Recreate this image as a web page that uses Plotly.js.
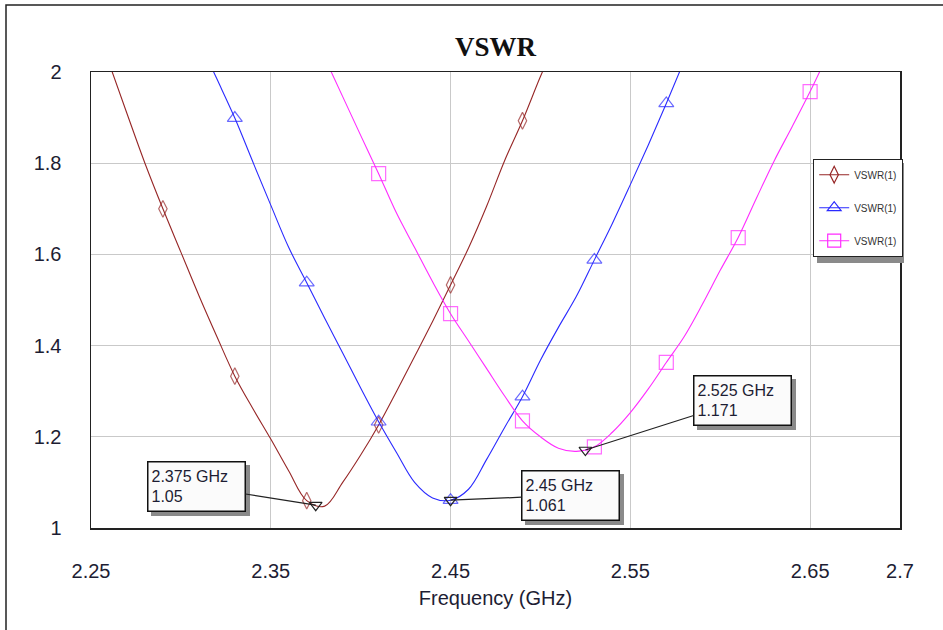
<!DOCTYPE html>
<html>
<head>
<meta charset="utf-8">
<script src="https://cdn.plot.ly/plotly-3.0.1.min.js"></script>
<style>html,body{margin:0;padding:0;background:#fff;}#chart{width:943px;height:630px;}</style>
</head>
<body>
<div id="chart"></div>
<script>
// ---- data ----
const redFreq = [2.26,2.27,2.28,2.29,2.30,2.31,2.32,2.33,2.34,2.35,2.36,2.37,2.38,2.39,2.40,2.41,2.42,2.43,2.44,2.45,2.46,2.47,2.48,2.49,2.50,2.51];
const redVswr = [2.02,1.909,1.80,1.70,1.605,1.51,1.42,1.333,1.262,1.195,1.125,1.06,1.048,1.10,1.16,1.226,1.30,1.376,1.453,1.533,1.614,1.705,1.805,1.893,1.99,2.08];

const blueFreq = [2.31,2.32,2.33,2.34,2.35,2.36,2.37,2.38,2.39,2.40,2.41,2.42,2.43,2.44,2.45,2.46,2.47,2.48,2.49,2.50,2.51,2.52,2.53,2.54,2.55,2.56,2.57,2.58];
const blueVswr = [2.07,1.985,1.899,1.803,1.708,1.615,1.538,1.46,1.384,1.307,1.233,1.165,1.10,1.066,1.061,1.085,1.15,1.22,1.288,1.368,1.44,1.508,1.588,1.668,1.753,1.84,1.931,2.025];

const pinkFreq = [2.38,2.39,2.40,2.41,2.42,2.43,2.44,2.45,2.46,2.47,2.48,2.49,2.50,2.51,2.52,2.53,2.54,2.55,2.56,2.57,2.58,2.59,2.60,2.61,2.62,2.63,2.64,2.65,2.66];
const pinkVswr = [2.031,1.946,1.861,1.777,1.69,1.615,1.54,1.47,1.41,1.35,1.29,1.235,1.20,1.175,1.168,1.178,1.21,1.253,1.305,1.363,1.42,1.49,1.565,1.637,1.722,1.805,1.88,1.957,2.04];

const markerFreq = [2.375, 2.45, 2.525];
const markerVswr = [1.05, 1.061, 1.171];
const markerText = ["2.375 GHz<br>1.05", "2.45 GHz<br>1.061", "2.525 GHz<br>1.171"];

const seriesName = "VSWR(1)";
const xTickVals = [2.25, 2.35, 2.45, 2.55, 2.65, 2.7];
const xTickText = ["2.25", "2.35", "2.45", "2.55", "2.65", "2.7"];
const yTickVals = [1, 1.2, 1.4, 1.6, 1.8, 2];
const yTickText = ["1", "1.2", "1.4", "1.6", "1.8", "2"];

// ---- helpers ----
function markerSizes(xs, size) {
  return xs.map(f => {
    const k = (f - 2.25) / 0.04;
    return Math.abs(k - Math.round(k)) < 1e-6 ? size : 0;
  });
}
function curve(xs, ys, color, symbol, size) {
  return {
    x: xs, y: ys, type: 'scatter', mode: 'lines+markers', name: seriesName, showlegend: false,
    line: {color: color, width: 1.1, shape: 'spline', smoothing: 1},
    marker: {symbol: symbol, size: markerSizes(xs, size), color: color, line: {color: color, width: 1.2}},
    cliponaxis: true
  };
}
// legend-only entries (no data points drawn)
function legendEntry(color, symbol, size, group) {
  return {
    x: [null], y: [null], type: 'scatter', mode: 'lines+markers', name: seriesName,
    legendgroup: group,
    line: {color: color, width: 1.1},
    marker: {symbol: symbol, size: size, color: color, line: {color: color, width: 1.2}}
  };
}

const traces = [
  curve(redFreq, redVswr, '#962626', 'diamond-tall-open', 12),
  curve(blueFreq, blueVswr, '#2a2aff', 'triangle-up-open', 13),
  curve(pinkFreq, pinkVswr, '#ff2cff', 'square-open', 14),
  {
    x: markerFreq, y: markerVswr, type: 'scatter', mode: 'markers', showlegend: false,
    marker: {symbol: 'triangle-down-open', size: 11, color: '#222', line: {color: '#222', width: 1.2}}
  },
  legendEntry('#962626', 'diamond-tall-open', 12, 'a'),
  legendEntry('#2a2aff', 'triangle-up-open', 12, 'b'),
  legendEntry('#ff2cff', 'square-open', 13, 'c')
];

// annotation offsets (pixels) for the marker labels
const labelOffsets = [[-119, -19], [120, -5], [157, -50]];
const annotations = [];
markerFreq.forEach((f, i) => {
  const [ax, ay] = labelOffsets[i];
  annotations.push({
    x: f, y: markerVswr[i], xref: 'x', yref: 'y', ax: ax + 4, ay: ay + 4,
    text: '&nbsp;', showarrow: true, arrowcolor: 'rgba(0,0,0,0)', arrowwidth: 0.1,
    font: {family: 'Arial, Liberation Sans, sans-serif', size: 16, color: 'rgba(0,0,0,0)'},
    bgcolor: '#8a8a8a', bordercolor: '#8a8a8a', borderwidth: 1.5, borderpad: 3,
    width: 90, height: 42
  });
});
markerFreq.forEach((f, i) => {
  const [ax, ay] = labelOffsets[i];
  annotations.push({
    x: f, y: markerVswr[i], xref: 'x', yref: 'y', ax: ax, ay: ay,
    text: markerText[i], showarrow: true, arrowhead: 0, arrowcolor: '#222', arrowwidth: 1.2,
    font: {family: 'Arial, Liberation Sans, sans-serif', size: 16, color: '#1d1d33'},
    bgcolor: '#fbfbfb', bordercolor: '#111', borderwidth: 1.5, borderpad: 3,
    align: 'left', width: 90, height: 42
  });
});

const L = 91, R = 43, T = 72, B = 102, W = 943, H = 630;
const pw = W - L - R, ph = H - T - B;
const px2x = p => (p - L) / pw;
const py2y = p => (H - B - p) / ph;

const shapes = [
  // outer frame
  {type: 'rect', xref: 'paper', yref: 'paper', x0: px2x(6), x1: px2x(960), y0: py2y(5), y1: py2y(700),
   line: {color: '#222', width: 1.5}, fillcolor: 'rgba(0,0,0,0)', layer: 'below'},
  // legend shadow
  {type: 'rect', xref: 'paper', yref: 'paper', x0: px2x(817), x1: px2x(904), y0: py2y(163), y1: py2y(263),
   line: {width: 0}, fillcolor: '#8a8a8a', layer: 'above'}
];

const layout = {
  width: W, height: H,
  margin: {l: L, r: R, t: T, b: B, pad: 0},
  paper_bgcolor: '#ffffff', plot_bgcolor: '#ffffff',
  font: {family: 'Arial, Liberation Sans, sans-serif', color: '#1d1d33'},
  title: {text: '<b>VSWR</b>', font: {family: 'Liberation Serif, Times New Roman, serif', size: 27, color: '#111'},
          x: 0.5, xref: 'paper', xanchor: 'center', y: 1 - 47 / H, yanchor: 'middle'},
  xaxis: {
    range: [2.25, 2.7], tickvals: xTickVals, ticktext: xTickText,
    showgrid: true, gridcolor: '#c9c9c9', gridwidth: 1.2,
    showline: true, linecolor: '#222', linewidth: 1.5, mirror: true,
    ticks: '', ticklabelstandoff: 24, zeroline: false,
    tickfont: {size: 20, color: '#1d1d33'},
    title: {text: 'Frequency (GHz)', font: {size: 20, color: '#1d1d33'}, standoff: 10}
  },
  yaxis: {
    range: [1, 2], tickvals: yTickVals, ticktext: yTickText,
    showgrid: true, gridcolor: '#c9c9c9', gridwidth: 1.2,
    showline: true, linecolor: '#222', linewidth: 1.5, mirror: true,
    ticks: '', ticklabelstandoff: 24, zeroline: false,
    tickfont: {size: 20, color: '#1d1d33'}
  },
  legend: {
    x: px2x(813), y: py2y(159), xanchor: 'left', yanchor: 'top',
    bgcolor: '#ffffff', bordercolor: '#222', borderwidth: 1.2,
    font: {size: 10, color: '#333'}, itemwidth: 30,
    traceorder: 'grouped', tracegroupgap: 14
  },
  showlegend: true,
  annotations: annotations,
  shapes: shapes
};

Plotly.newPlot('chart', traces, layout, {displayModeBar: false, staticPlot: true});
</script>
</body>
</html>
